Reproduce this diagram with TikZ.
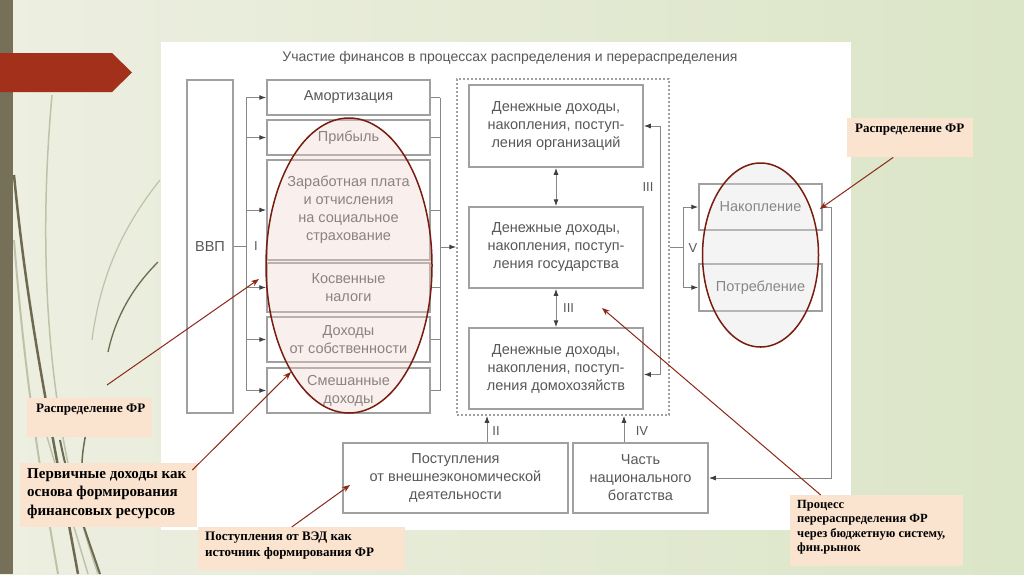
\documentclass[tikz,border=0pt]{standalone}
\usepackage{fontspec}
\setmainfont{Liberation Serif}
\newfontfamily\diagfont{Liberation Sans}
\usetikzlibrary{arrows.meta,shapes.geometric}
\definecolor{bgl}{RGB}{237,239,225}
\definecolor{bgr}{RGB}{219,229,199}
\definecolor{barbrown}{RGB}{118,112,88}
\definecolor{flagred}{RGB}{163,48,26}
\definecolor{boxgray}{RGB}{160,160,160}
\definecolor{linegray}{RGB}{135,135,135}
\definecolor{txtgray}{RGB}{88,88,88}
\definecolor{ellred}{RGB}{120,28,16}
\definecolor{callred}{RGB}{140,40,22}
\definecolor{peach}{RGB}{250,227,207}
\definecolor{pinkfill}{RGB}{238,212,202}
\definecolor{grayfill}{RGB}{225,225,225}
\definecolor{curvedark}{RGB}{110,106,82}
\definecolor{curvelight}{RGB}{190,194,168}
\begin{document}
\begin{tikzpicture}[x=1pt,y=-1pt,
  dbox/.style={draw=boxgray,line width=1.5pt,fill=white,inner sep=2pt,align=center,text=txtgray,font=\diagfont\fontsize{14.5}{18}\selectfont},
  conn/.style={draw=linegray,line width=1pt},
  arr/.style={conn,-{Latex[length=7pt,width=5pt,color=black!75]}},
  darr/.style={conn,{Latex[length=7pt,width=5pt,color=black!75]}-{Latex[length=7pt,width=5pt,color=black!75]}},
  roman/.style={text=txtgray,font=\diagfont\fontsize{13}{13}\selectfont,inner sep=0pt},
  callbox/.style={fill=peach,draw=none,inner sep=0pt,anchor=north west},
  calltext/.style={anchor=north west,inner sep=0pt,align=left,font=\bfseries\fontsize{13}{16}\selectfont},
  callarr/.style={draw=callred,line width=1pt,-{Stealth[length=8pt,width=6pt]}},
  ell/.style={ellipse,draw=ellred,line width=1.5pt,inner sep=0pt}
]
\useasboundingbox (0,0) rectangle (1024,574);
% background
\shade[left color=bgl,right color=bgr] (0,0) rectangle (1024,574);
% decorative curves
\draw[curvelight,line width=1.5pt] (52,95) .. controls (38,250) and (45,420) .. (98,574);
\draw[curvelight,line width=1.2pt] (160,180) .. controls (120,230) and (100,280) .. (92,340);
\draw[curvedark,line width=1.3pt] (158,262) .. controls (130,290) and (115,320) .. (108,352);
\draw[curvedark,line width=2.5pt] (14,175) .. controls (28,320) and (50,420) .. (78,574);
\draw[curvelight,line width=2pt] (14,240) .. controls (25,380) and (40,470) .. (58,574);
\draw[curvedark,line width=2pt] (60,440) .. controls (70,490) and (85,530) .. (100,574);
\draw[curvelight,line width=1.5pt] (45,430) .. controls (60,480) and (75,530) .. (88,574);
\draw[curvedark,line width=1.5pt] (90,415) .. controls (84,440) and (82,455) .. (82,465);
% brown bar and flag
\fill[barbrown] (0,0) rectangle (13,574);
\fill[flagred] (0,53) -- (112,53) -- (132,72.5) -- (112,92) -- (0,92) -- cycle;
% white panel
\fill[white] (161,42) rectangle (851,530);
% title
\node[text=txtgray,font=\diagfont\fontsize{14}{16}\selectfont] (title) at (510,58) {Участие финансов в процессах распределения и перераспределения};
% left column
\node[dbox,minimum width=46,minimum height=333] (vvp) at (210,246.5) {ВВП};
\node[dbox,minimum width=163,minimum height=35] (am) at (348.5,97.5) {Амортизация};
\node[dbox,minimum width=163,minimum height=35] (pr) at (348.5,137.5) {Прибыль};
\node[dbox,minimum width=163,minimum height=100] (zp) at (348.5,210) {Заработная плата\\и отчисления\\на социальное\\страхование};
\node[dbox,minimum width=163,minimum height=49] (kn) at (348.5,287.5) {Косвенные\\налоги};
\node[dbox,minimum width=163,minimum height=45] (ds) at (348.5,339.5) {Доходы\\от собственности};
\node[dbox,minimum width=163,minimum height=45] (sm) at (348.5,390.5) {Смешанные\\доходы};
% middle
\node[draw=boxgray,line width=1.5pt,dashed,dash pattern=on 2pt off 2pt,minimum width=212,minimum height=336,inner sep=0pt] (dash) at (563,247) {};
\node[dbox,minimum width=174,minimum height=82] (org) at (556,126) {Денежные доходы,\\накопления, поступ-\\ления организаций};
\node[dbox,minimum width=174,minimum height=81] (gos) at (556,247.5) {Денежные доходы,\\накопления, поступ-\\ления государства};
\node[dbox,minimum width=174,minimum height=81] (dom) at (556,368.5) {Денежные доходы,\\накопления, поступ-\\ления домохозяйств};
% right
\node[dbox,minimum width=123,minimum height=46] (nak) at (760.5,207) {Накопление};
\node[dbox,minimum width=123,minimum height=47] (pot) at (760.5,287.5) {Потребление};
% bottom
\node[dbox,minimum width=225,minimum height=70] (post) at (455.5,478) {Поступления\\от внешнеэкономической\\деятельности};
\node[dbox,minimum width=135,minimum height=70] (chast) at (640.5,478) {Часть\\национального\\богатства};
% connectors left
\coordinate (b1) at (246,97.5);
\coordinate (b2) at (246,390.5);
\draw[conn] (vvp.east) -- (vvp.east -| b1);
\draw[conn] (b1) -- (b2);
\foreach \n in {am,pr,zp,kn,ds,sm} {\draw[arr] (b1 |- \n.west) -- (\n.west);}
\node[roman] (r1) at (256,246.5) {I};
\coordinate (c1) at (440,97.5);
\coordinate (c2) at (440,390.5);
\draw[conn] (c1) -- (c2);
\foreach \n in {am,pr,zp,kn,ds,sm} {\draw[conn] (\n.east) -- (\n.east -| c1);}
\draw[arr] (c1 |- dash.west) -- (dash.west);
% middle connectors
\draw[darr] (org.south) -- (gos.north);
\draw[darr] (gos.south) -- (dom.north);
\node[roman,anchor=west] (r3a) at (563,308) {III};
\coordinate (lp) at (660,126);
\draw[darr] (org.east) -- (lp) |- ([yshift=-6pt]dom.east);
\node[roman] (r3b) at (648,187) {III};
% V branch
\coordinate (v1) at (683,207);
\coordinate (v2) at (683,287.5);
\draw[conn] (dash.east) -- (dash.east -| v1);
\draw[conn] (v1) -- (v2);
\draw[arr] (v1) -- (nak.west);
\draw[arr] (v2) -- (pot.west);
\node[roman] (r5) at (693,248) {V};
% loop to bottom
\coordinate (rr) at (831,207);
\draw[arr] (nak.east) -- (rr) |- (chast.east);
% bottom arrows
\draw[arr] ([xshift=31.5pt]post.north) -- ([xshift=31.5pt]post.north |- dash.south);
\node[roman] (r2) at (496,431) {II};
\draw[arr] ([xshift=-16.5pt]chast.north) -- ([xshift=-16.5pt]chast.north |- dash.south);
\node[roman] (r4) at (642,431) {IV};
% ellipses
\node[ell,fill=pinkfill,fill opacity=0.35,minimum width=166,minimum height=295] (el1) at (349,265.5) {};
\node[ell,fill=grayfill,fill opacity=0.35,minimum width=116,minimum height=184] (el2) at (760.5,255) {};
% callouts
\node[callbox,minimum width=125,minimum height=39] (k1) at (27,398) {};
\node[calltext] (t1) at (36,404) {Распределение ФР};
\node[callbox,minimum width=177,minimum height=64] (k2) at (20,463) {};
\node[calltext,font=\bfseries\fontsize{15}{18.5}\selectfont] (t2) at (27,468) {Первичные доходы как\\основа формирования\\финансовых ресурсов};
\node[callbox,minimum width=207,minimum height=43] (k3) at (198,527) {};
\node[calltext] (t3) at (205,532) {Поступления от ВЭД как\\источник формирования ФР};
\node[callbox,minimum width=126,minimum height=39] (k4) at (847,118) {};
\node[calltext] (t4) at (855,124) {Распределение ФР};
\node[callbox,minimum width=173,minimum height=71] (k5) at (790,495) {};
\node[calltext,font=\bfseries\fontsize{12.5}{14.5}\selectfont] (t5) at (797,500) {Процесс\\перераспределения ФР\\через бюджетную систему,\\фин.рынок};
% callout arrows
\coordinate (s1) at (107,385);
\draw[callarr] (s1) -- (259,279);
\draw[callarr] ([xshift=-5pt,yshift=-7pt]k2.north east) -- (291,372);
\draw[callarr] ([xshift=-10pt]k3.north) -- (350,485);
\draw[callarr] ([xshift=-17pt]k4.south) -- ([xshift=-3pt,yshift=-2pt]nak.east);
\draw[callarr] ([xshift=-56pt]k5.north) -- (602,308);
\end{tikzpicture}
\end{document}
